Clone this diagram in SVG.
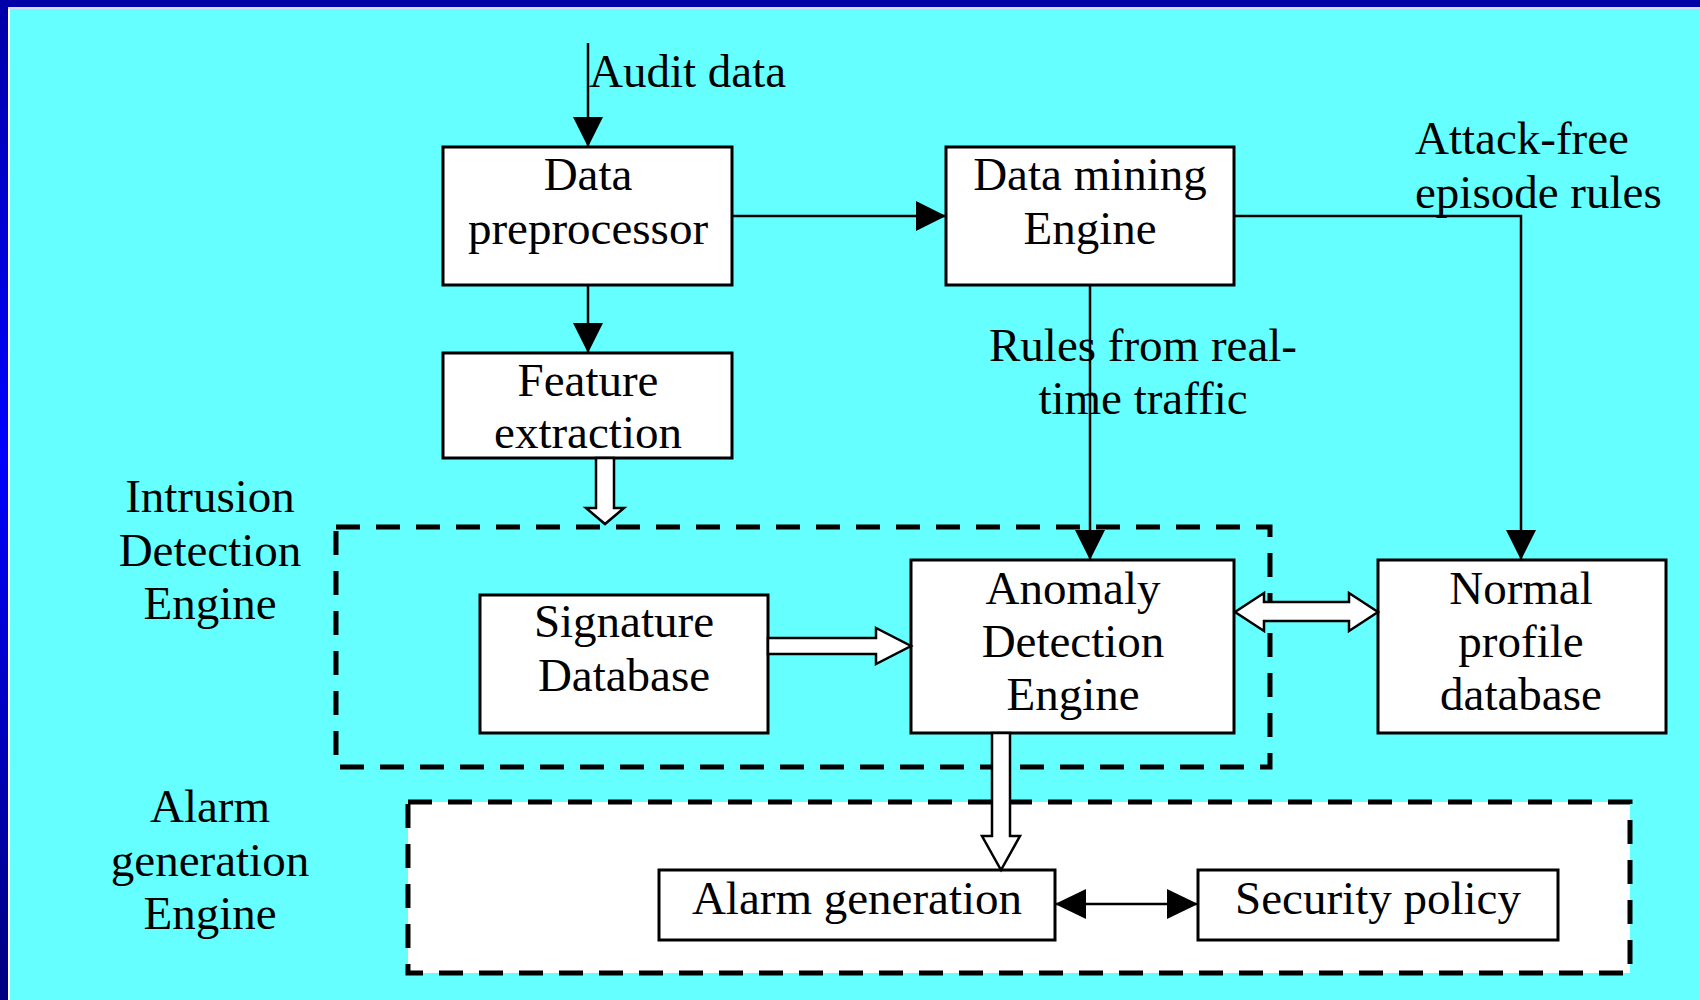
<svg xmlns="http://www.w3.org/2000/svg" width="1700" height="1000" viewBox="0 0 1700 1000">
  <defs>
    <linearGradient id="sideBar" x1="0" y1="0" x2="0" y2="1">
      <stop offset="0" stop-color="#0000A8"/>
      <stop offset="0.45" stop-color="#0000FF"/>
      <stop offset="1" stop-color="#000080"/>
    </linearGradient>
    <marker id="head" markerUnits="userSpaceOnUse" markerWidth="30" markerHeight="30" refX="30" refY="15" orient="auto-start-reverse" viewBox="0 0 30 30">
      <path d="M0,0 L30,15 L0,30 z" fill="#000"/>
    </marker>
    <marker id="headSmall" markerUnits="userSpaceOnUse" markerWidth="31" markerHeight="30" refX="31" refY="15" orient="auto-start-reverse" viewBox="0 0 31 30">
      <path d="M0,0 L31,15 L0,30 z" fill="#000"/>
    </marker>
  </defs>
  <style>
    text { font-family: "Liberation Serif", "Times New Roman", serif; font-size: 47px; fill: #000; }
    .c { text-anchor: middle; }
    .box { fill: #fff; stroke: #000; stroke-width: 3; }
    .dash { fill: none; stroke: #000; stroke-width: 5; stroke-dasharray: 24 16; }
    .dash-filled { fill: #fff; stroke: #000; stroke-width: 5; stroke-dasharray: 24 16; }
    .wire { fill: none; stroke: #000; stroke-width: 2.5; }
    .hollow { fill: #fff; stroke: #000; stroke-width: 2.5; stroke-linejoin: miter; }
  </style>

  <!-- slide background and frame -->
  <rect x="0" y="0" width="1700" height="1000" fill="#66FFFF"/>
  <rect x="0" y="0" width="1700" height="7" fill="#0000A8"/>
  <rect x="0" y="7" width="1700" height="2" fill="#D8D8FF"/>
  <rect x="0" y="0" width="8" height="1000" fill="url(#sideBar)"/>
  <rect x="8" y="9" width="2" height="991" fill="#FFFFFF"/>

  <!-- engine groupings -->
  <g id="intrusion-detection-engine">
    <rect class="dash" x="336" y="527" width="934" height="240"/>
    <text class="c" x="210" y="512">Intrusion</text>
    <text class="c" x="210" y="566">Detection</text>
    <text class="c" x="210" y="619">Engine</text>
  </g>
  <g id="alarm-generation-engine">
    <rect class="dash-filled" x="408" y="802" width="1222" height="171"/>
    <text class="c" x="210" y="822">Alarm</text>
    <text class="c" x="210" y="876">generation</text>
    <text class="c" x="210" y="929">Engine</text>
  </g>

  <!-- nodes -->
  <g id="data-preprocessor">
    <rect class="box" x="443" y="147" width="289" height="138"/>
    <text class="c" x="588" y="190">Data</text>
    <text class="c" x="588" y="244">preprocessor</text>
  </g>
  <g id="feature-extraction">
    <rect class="box" x="443" y="353" width="289" height="105"/>
    <text class="c" x="588" y="396">Feature</text>
    <text class="c" x="588" y="448">extraction</text>
  </g>
  <g id="data-mining-engine">
    <rect class="box" x="946" y="147" width="288" height="138"/>
    <text class="c" x="1090" y="190">Data mining</text>
    <text class="c" x="1090" y="244">Engine</text>
  </g>
  <g id="signature-database">
    <rect class="box" x="480" y="595" width="288" height="138"/>
    <text class="c" x="624" y="637">Signature</text>
    <text class="c" x="624" y="691">Database</text>
  </g>
  <g id="anomaly-detection-engine">
    <rect class="box" x="911" y="560" width="323" height="173"/>
    <text class="c" x="1073" y="604">Anomaly</text>
    <text class="c" x="1073" y="657">Detection</text>
    <text class="c" x="1073" y="710">Engine</text>
  </g>
  <g id="normal-profile-database">
    <rect class="box" x="1378" y="560" width="288" height="173"/>
    <text class="c" x="1521" y="604">Normal</text>
    <text class="c" x="1521" y="657">profile</text>
    <text class="c" x="1521" y="710">database</text>
  </g>
  <g id="alarm-generation">
    <rect class="box" x="659" y="870" width="396" height="70"/>
    <text class="c" x="857" y="914">Alarm generation</text>
  </g>
  <g id="security-policy">
    <rect class="box" x="1198" y="870" width="360" height="70"/>
    <text class="c" x="1378" y="914">Security policy</text>
  </g>

  <!-- connectors -->
  <g id="connectors">
    <line class="wire" x1="588" y1="43" x2="588" y2="147" marker-end="url(#head)"/>
    <line class="wire" x1="588" y1="285" x2="588" y2="353" marker-end="url(#head)"/>
    <line class="wire" x1="732" y1="216" x2="946" y2="216" marker-end="url(#head)"/>
    <line class="wire" x1="1090" y1="285" x2="1090" y2="560" marker-end="url(#head)"/>
    <polyline class="wire" points="1234,216 1521,216 1521,560" marker-end="url(#head)"/>
    <line class="wire" x1="1055" y1="904" x2="1198" y2="904" marker-start="url(#headSmall)" marker-end="url(#headSmall)"/>

    <polygon class="hollow" points="596,458 596,508 586,508 605,524 624,508 614,508 614,458"/>
    <polygon class="hollow" points="768,638 876,638 876,628 911,646 876,664 876,654 768,654"/>
    <polygon class="hollow" points="1235,612 1264,593 1264,602 1349,602 1349,593 1378,612 1349,631 1349,621 1264,621 1264,631"/>
    <polygon class="hollow" points="992,733 992,836 982,836 1001,870 1020,836 1010,836 1010,733"/>

    <text x="589" y="87">Audit data</text>
    <text x="1415" y="154">Attack-free</text>
    <text x="1415" y="208">episode rules</text>
    <text class="c" x="1143" y="361">Rules from real-</text>
    <text class="c" x="1143" y="414">time traffic</text>
  </g>
</svg>
